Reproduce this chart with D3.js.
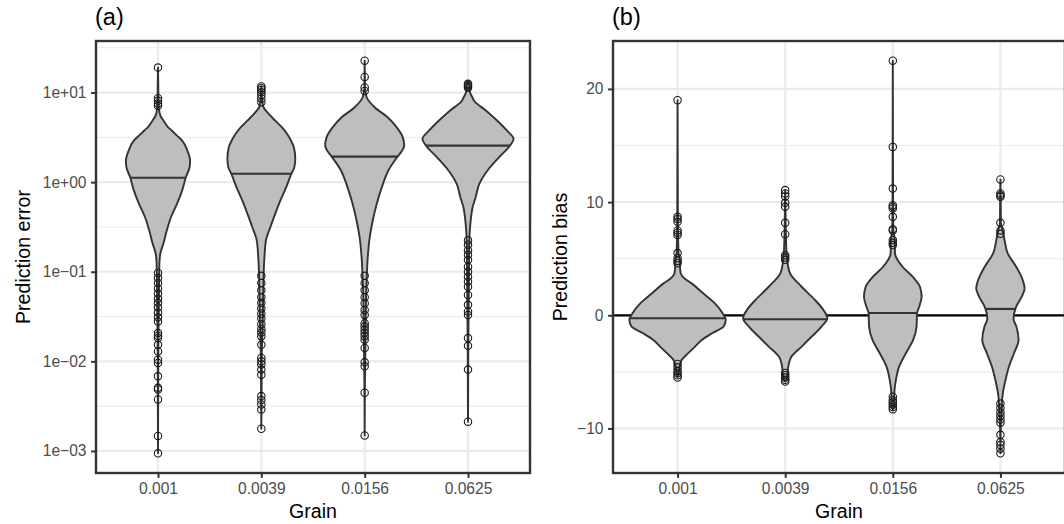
<!DOCTYPE html>
<html>
<head>
<meta charset="utf-8">
<script src="https://cdn.jsdelivr.net/npm/d3@7"></script>
<style>
  body { margin: 0; background: #fff; }
  text { font-family: "Liberation Sans", Arial, sans-serif; }
</style>
</head>
<body>
<svg id="chart" width="1064" height="524"></svg>
<script>
const grains = ["0.001", "0.0039", "0.0156", "0.0625"]

// (a) prediction error, log scale
const errTicks = [0.001, 0.01, 0.1, 1, 10]
const errTickLabels = ["1e\u221203", "1e\u221202", "1e\u221201", "1e+00", "1e+01"]
const errMinor = [0.003162, 0.03162, 0.3162, 3.162, 31.62]
const errMedians = [1.12, 1.24, 1.93, 2.56]

const err1Val = [19.0, 14, 9.5, 7.6, 6.3, 5.4, 4.85, 4.2, 3.75, 3.3, 2.9, 2.25, 1.74, 1.47, 1.14, 0.81, 0.575, 0.408, 0.29, 0.206, 0.16, 0.124, 0.081, 0.045, 0.028, 0.018, 0.006, 0.00094]
const err1Den = [0, 0.004, 0.008, 0.014, 0.025, 0.06, 0.12, 0.2, 0.3, 0.41, 0.52, 0.63, 0.69, 0.68, 0.6, 0.52, 0.41, 0.28, 0.19, 0.115, 0.05, 0.03, 0.024, 0.017, 0.012, 0.008, 0.005, 0]
const err2Val = [11.7, 10.5, 8.8, 7.74, 6.81, 5.8, 4.85, 4.1, 3.45, 2.9, 2.45, 1.82, 1.47, 1.24, 0.88, 0.626, 0.446, 0.316, 0.225, 0.147, 0.096, 0.0575, 0.0267, 0.019, 0.012, 0.004, 0.00177]
const err2Den = [0, 0.006, 0.012, 0.025, 0.05, 0.155, 0.3, 0.44, 0.555, 0.64, 0.7, 0.73, 0.71, 0.645, 0.535, 0.41, 0.3, 0.195, 0.1, 0.067, 0.05, 0.04, 0.03, 0.02, 0.01, 0.005, 0]
const err3Val = [22.7, 15, 11, 9.8, 8.8, 6.81, 5.27, 4.08, 3.16, 2.56, 2.15, 1.93, 1.35, 0.88, 0.575, 0.375, 0.245, 0.147, 0.088, 0.0528, 0.0345, 0.0147, 0.006, 0.00149]
const err3Den = [0, 0.003, 0.006, 0.024, 0.045, 0.22, 0.5, 0.69, 0.82, 0.85, 0.78, 0.71, 0.51, 0.37, 0.26, 0.175, 0.11, 0.067, 0.045, 0.03, 0.024, 0.016, 0.006, 0]
const err4Val = [13.2, 12.5, 11.5, 10.4, 8.8, 8.1, 6.27, 4.85, 3.75, 3.03, 2.56, 1.9, 1.35, 0.96, 0.68, 0.527, 0.375, 0.267, 0.16, 0.09, 0.04, 0.02, 0.006, 0.00212]
const err4Den = [0, 0.02, 0.03, 0.035, 0.095, 0.13, 0.39, 0.63, 0.84, 0.98, 0.905, 0.67, 0.42, 0.245, 0.165, 0.1, 0.058, 0.035, 0.024, 0.02, 0.014, 0.008, 0.004, 0]

const err1Pts = [19.0, 8.65, 8.09, 7.55, 7.11, 0.097, 0.085, 0.075, 0.065, 0.057, 0.05, 0.045, 0.04, 0.035, 0.031, 0.0278, 0.0207, 0.0193, 0.0182, 0.0153, 0.0129, 0.01045, 0.0096, 0.0068, 0.00506, 0.00485, 0.00375, 0.00147, 0.00094]
const err2Pts = [11.7, 11.2, 10.7, 10.1, 9.4, 8.6, 7.8, 0.09, 0.075, 0.062, 0.052, 0.045, 0.039, 0.034, 0.03, 0.026, 0.023, 0.021, 0.019, 0.0153, 0.0109, 0.01, 0.0092, 0.0081, 0.0071, 0.0041, 0.0037, 0.0033, 0.0029, 0.00177]
const err3Pts = [22.7, 14.9, 11.4, 10.4, 0.09, 0.075, 0.062, 0.052, 0.0446, 0.0375, 0.033, 0.0267, 0.0245, 0.0225, 0.0207, 0.019, 0.0174, 0.0141, 0.00975, 0.0088, 0.00446, 0.00149]
const err4Pts = [12.5, 12.1, 11.7, 11.3, 0.225, 0.2, 0.174, 0.155, 0.135, 0.114, 0.1, 0.088, 0.0774, 0.068, 0.055, 0.0427, 0.036, 0.033, 0.0182, 0.0149, 0.0081, 0.00212]

// (b) prediction bias, linear scale
const biasTicks = [-10, 0, 10, 20]
const biasTickLabels = ["\u221210", "0", "10", "20"]
const biasMinor = [-15, -5, 5, 15, 25]
const biasMedians = [-0.26, -0.35, 0.2, 0.56]

const bias1Val = [19.0, 12, 8, 5.5, 5.0, 4.3, 3.7, 3.3, 2.82, 1.94, 1.06, 0.18, -0.41, -1.0, -1.59, -2.18, -2.77, -3.35, -3.94, -4.39, -4.9, -5.5]
const bias1Den = [0, 0.004, 0.008, 0.02, 0.04, 0.05, 0.065, 0.13, 0.29, 0.53, 0.77, 0.93, 0.995, 0.95, 0.71, 0.5, 0.36, 0.22, 0.085, 0.045, 0.03, 0]
const bias2Val = [11.06, 10, 8, 5.3, 4.73, 3.7, 2.52, 1.35, 0.47, -0.26, -1.0, -1.89, -2.77, -3.65, -4.39, -5.12, -5.6, -5.86]
const bias2Den = [0, 0.005, 0.01, 0.03, 0.045, 0.1, 0.34, 0.615, 0.79, 0.87, 0.75, 0.545, 0.34, 0.13, 0.07, 0.05, 0.04, 0]
const bias3Val = [22.5, 15, 10, 7.6, 6.65, 5.47, 4.29, 3.41, 2.52, 1.64, 0.76, 0.18, -1.0, -2.18, -3.35, -4.54, -5.71, -6.88, -8.07, -8.3]
const bias3Den = [0, 0.003, 0.006, 0.01, 0.04, 0.045, 0.2, 0.41, 0.56, 0.595, 0.545, 0.5, 0.49, 0.42, 0.27, 0.13, 0.064, 0.03, 0.025, 0]
const bias4Val = [12.0, 10.6, 8.2, 7.53, 6.65, 5.47, 4.29, 3.12, 2.38, 1.64, 0.76, -0.3, -1.0, -2.18, -3.35, -4.54, -5.71, -6.88, -7.77, -9.0, -9.6, -12.2]
const bias4Den = [0, 0.005, 0.01, 0.045, 0.085, 0.15, 0.325, 0.46, 0.5, 0.44, 0.325, 0.27, 0.33, 0.375, 0.28, 0.175, 0.105, 0.05, 0.03, 0.02, 0.01, 0]

const bias1Pts = [19.0, 8.7, 8.5, 8.26, 7.5, 7.3, 7.1, 5.5, 5.05, 4.8, 4.6, -4.3, -4.6, -4.9, -5.1, -5.3, -5.5]
const bias2Pts = [11.06, 10.76, 10.5, 9.94, 9.58, 8.17, 7.17, 5.3, 5.1, 4.9, -5.1, -5.3, -5.5, -5.7, -5.86]
const bias3Pts = [22.5, 14.88, 11.2, 9.73, 9.6, 9.44, 8.7, 7.6, 7.5, 6.65, 6.4, 6.2, -7.2, -7.5, -7.7, -7.9, -8.1, -8.3]
const bias4Pts = [12.0, 10.76, 10.6, 10.47, 8.17, 7.5, 7.2, -7.8, -8.2, -8.6, -8.9, -9.2, -9.5, -10.56, -11.2, -11.45, -11.8, -12.2]

const FILL = "#BEBEBE"
const INK = "#333333"
const GRID = "#EBEBEB"

const svg = d3.select('#chart')

const drawPanel = p => {
    const x = d3.scalePoint().domain(grains).range([p.left, p.right]).padding(0.6)
    const all = p.profiles.flatMap(pr => pr.val).concat(p.points.flat())
    const lo = d3.min(all), hi = d3.max(all)
    let y
    if (p.log) {
        const a = Math.log10(lo), b = Math.log10(hi), e = (b - a) * 0.05
        y = d3.scaleLog().domain([10 ** (a - e), 10 ** (b + e)]).range([p.bottom, p.top])
    } else {
        const e = (hi - lo) * 0.05
        y = d3.scaleLinear().domain([lo - e, hi + e]).range([p.bottom, p.top])
    }
    const [d0, d1] = y.domain()
    const g = svg.append('g')

    // grid
    g.selectAll('.minor').data(p.minor.filter(v => v >= d0 && v <= d1)).join('line')
        .attr('x1', p.left).attr('x2', p.right)
        .attr('y1', d => y(d)).attr('y2', d => y(d))
        .attr('stroke', GRID).attr('stroke-width', 1.1)
    g.selectAll('.major').data(p.ticks).join('line')
        .attr('x1', p.left).attr('x2', p.right)
        .attr('y1', d => y(d)).attr('y2', d => y(d))
        .attr('stroke', GRID).attr('stroke-width', 2.2)
    g.selectAll('.vgrid').data(grains).join('line')
        .attr('x1', d => x(d)).attr('x2', d => x(d))
        .attr('y1', p.top).attr('y2', p.bottom)
        .attr('stroke', GRID).attr('stroke-width', 2.2)

    if (p.zero) {
        g.append('line')
            .attr('x1', p.left).attr('x2', p.right)
            .attr('y1', y(0)).attr('y2', y(0))
            .attr('stroke', '#000').attr('stroke-width', 2.3)
    }

    const w = d3.scaleLinear().domain([0, 1]).range([0, x.step() * 0.45])

    p.profiles.forEach((pr, i) => {
        const xc = x(grains[i])
        const pts = pr.val.map((v, k) => ({ v, d: pr.den[k] }))
        const area = d3.area()
            .curve(d3.curveMonotoneY)
            .x0(d => xc - w(d.d))
            .x1(d => xc + w(d.d))
            .y(d => y(d.v))
        g.append('path').datum(pts)
            .attr('d', area)
            .attr('fill', FILL)
            .attr('stroke', INK)
            .attr('stroke-width', 1.9)
            .attr('stroke-linejoin', 'round')

        // median: half-width at that level
        const m = p.medians[i]
        const py = y(m)
        let hw = 0
        for (let k = 0; k < pts.length - 1; k++) {
            const ya = y(pts[k].v), yb = y(pts[k + 1].v)
            if (py >= ya && py <= yb) {
                const t = (py - ya) / (yb - ya)
                hw = w(pts[k].d + t * (pts[k + 1].d - pts[k].d))
                break
            }
        }
        g.append('line')
            .attr('x1', xc - hw).attr('x2', xc + hw)
            .attr('y1', py).attr('y2', py)
            .attr('stroke', INK).attr('stroke-width', 2.2)

        g.selectAll(null).data(p.points[i]).join('circle')
            .attr('cx', xc)
            .attr('cy', d => y(d))
            .attr('r', 3.7)
            .attr('fill', 'none')
            .attr('stroke', '#1a1a1a')
            .attr('stroke-width', 1.1)
    })

    // axes
    const yAxis = d3.axisLeft(y).tickValues(p.ticks)
        .tickFormat((d, i) => p.tickLabels[i])
        .tickSize(4.9).tickPadding(4.6)
    const xAxis = d3.axisBottom(x).tickSize(4.9).tickPadding(5.5)
    const ga = g.append('g').attr('transform', `translate(${p.left},0)`).call(yAxis)
    const gb = g.append('g').attr('transform', `translate(0,${p.bottom})`).call(xAxis)
    ;[ga, gb].forEach(s => {
        s.select('.domain').remove()
        s.attr('font-family', null).attr('font-size', null)
        s.selectAll('line').attr('stroke', INK).attr('stroke-width', 2)
        s.selectAll('text').attr('fill', '#4D4D4D').style('font-size', '15.6px')
    })

    g.append('rect')
        .attr('x', p.left).attr('y', p.top)
        .attr('width', p.right - p.left).attr('height', p.bottom - p.top)
        .attr('fill', 'none').attr('stroke', INK).attr('stroke-width', 2.4)

    g.append('text')
        .attr('x', (p.left + p.right) / 2).attr('y', 518)
        .attr('text-anchor', 'middle')
        .style('font-size', '19.6px').attr('fill', '#000')
        .text('Grain')
    g.append('text')
        .attr('transform', `translate(${p.titleX},${(p.top + p.bottom) / 2}) rotate(-90)`)
        .attr('text-anchor', 'middle')
        .style('font-size', '19.6px').attr('fill', '#000')
        .text(p.yTitle)
    g.append('text')
        .attr('x', p.left - 1).attr('y', 25)
        .style('font-size', '23.5px').attr('fill', '#000')
        .text(p.tag)
}

drawPanel({
    left: 96, right: 530, top: 41, bottom: 473, log: true,
    ticks: errTicks, tickLabels: errTickLabels, minor: errMinor, medians: errMedians,
    profiles: [
        { val: err1Val, den: err1Den }, { val: err2Val, den: err2Den },
        { val: err3Val, den: err3Den }, { val: err4Val, den: err4Den }
    ],
    points: [err1Pts, err2Pts, err3Pts, err4Pts],
    yTitle: 'Prediction error', titleX: 30, tag: '(a)', zero: false
})

drawPanel({
    left: 613, right: 1065, top: 41, bottom: 473, log: false,
    ticks: biasTicks, tickLabels: biasTickLabels, minor: biasMinor, medians: biasMedians,
    profiles: [
        { val: bias1Val, den: bias1Den }, { val: bias2Val, den: bias2Den },
        { val: bias3Val, den: bias3Den }, { val: bias4Val, den: bias4Den }
    ],
    points: [bias1Pts, bias2Pts, bias3Pts, bias4Pts],
    yTitle: 'Prediction bias', titleX: 566.5, tag: '(b)', zero: true
})
</script>
</body>
</html>
